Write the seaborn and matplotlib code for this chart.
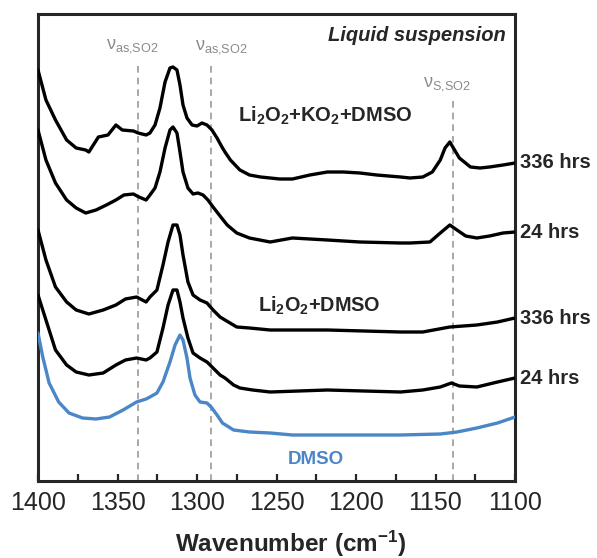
import numpy as np
import pandas as pd
import matplotlib
matplotlib.use("Agg")
import matplotlib.pyplot as plt
import seaborn as sns

# ---------------- data (offset units) ----------------
wn_ko2_336 = [1400, 1395, 1389, 1382, 1376, 1370, 1368, 1362, 1359, 1356, 1351, 1347, 1340, 1337,
              1332, 1329.6, 1326.4, 1323.3, 1320.1, 1317.0, 1315.1, 1312.6, 1310.7, 1308.8,
              1306.3, 1303.1, 1300.0, 1296.9, 1293.7, 1290.6, 1287.4, 1284.3, 1282.4, 1279,
              1273, 1267, 1260, 1254, 1248, 1240, 1229, 1218, 1208, 1197.5, 1187, 1172, 1166,
              1158, 1152, 1147, 1144, 1141, 1138, 1135, 1128, 1122, 1116, 1107.5, 1100]
y_ko2_336 = [411, 381, 361, 341, 333, 331, 329, 344, 345, 346, 356, 351, 350, 348,
             346, 348, 356, 373, 399, 413, 414, 411, 396, 376,
             363, 356, 355, 358, 356, 351, 343, 334, 329, 321,
             311, 306, 304, 303, 302, 302, 306, 309, 309, 308, 306, 304, 303,
             304, 309, 321, 333, 339, 331, 323, 314, 313, 314, 316, 318]

wn_ko2_24 = [1400, 1395, 1389, 1382, 1376, 1370, 1363.5, 1357, 1351, 1346, 1340, 1336.5, 1332,
             1329.6, 1326.4, 1323.3, 1320.1, 1317.0, 1315.1, 1312.6, 1310.7, 1308.8, 1305.7,
             1302.5, 1299.4, 1296.2, 1293.1, 1289.9, 1285.5, 1281, 1275, 1267,
             1254, 1240, 1218, 1197.5, 1172, 1166, 1153.5, 1147, 1141, 1136.5, 1131, 1124,
             1116, 1107.5, 1100]
y_ko2_24 = [351, 321, 298, 281, 273, 268, 271, 276, 281, 286, 287, 284, 281,
            286, 293, 309, 333, 351, 354, 348, 329, 309, 293,
            287, 288, 286, 281, 274, 265, 256, 248, 243,
            239, 243, 241, 239, 238, 238, 239, 248, 256, 251, 245, 243,
            245, 248, 249]

wn_li_336 = [1400, 1395, 1389, 1382, 1376, 1368, 1359, 1351, 1345, 1338, 1332, 1329.6, 1325.2,
             1321.4, 1318.2, 1315.1, 1312.6, 1310.7, 1308.8, 1305.7, 1302.5, 1298.1, 1293.7,
             1289.9, 1285.5, 1282.4, 1275, 1267, 1254, 1218, 1172,
             1158, 1141, 1124, 1111, 1100]
y_li_336 = [251, 221, 194, 179, 171, 167, 171, 176, 182, 184, 179, 184, 191,
            216, 239, 256, 256, 246, 226, 199, 186, 181, 178,
            171, 164, 161, 154, 153, 151, 151, 149,
            149, 154, 156, 159, 163]

wn_li_24 = [1400, 1395, 1389, 1382, 1376, 1368, 1359, 1351, 1345, 1338, 1332, 1329.6, 1325.2,
            1321.4, 1318.2, 1315.1, 1312.6, 1310.7, 1308.8, 1305.7, 1302.5, 1298.1, 1293.7,
            1289.9, 1285.5, 1282.4, 1277, 1273, 1265, 1254, 1218, 1172,
            1158, 1147, 1140, 1135, 1124, 1111, 1100]
y_li_24 = [186, 161, 131, 116, 109, 106, 108, 116, 121, 123, 121, 123, 129,
           153, 176, 191, 191, 179, 163, 143, 128, 123, 119,
           113, 106, 103, 96, 93, 91, 89, 91, 89,
           91, 94, 98, 95, 94, 99, 103]

wn_dmso = [1400, 1397, 1393, 1387, 1380.5, 1372, 1363.5, 1355, 1346.5, 1338, 1332, 1329.6,
           1325.2, 1321.4, 1317.0, 1313.8, 1310.7, 1308.8, 1306.3, 1304.4, 1301.3, 1298.1,
           1293.7, 1290.6, 1287.4, 1284, 1277, 1267, 1254,
           1240, 1172, 1147, 1136.5, 1124, 1111, 1100]
y_dmso = [148, 124, 98, 79, 68, 63, 62, 64, 71, 79, 82, 84,
          88, 99, 119, 136, 146, 141, 123, 103, 86, 79,
          78, 73, 66, 58, 51, 49, 48,
          46, 46, 47, 49, 53, 58, 64]

series_names = ["Li2O2+KO2+DMSO 336 hrs", "Li2O2+KO2+DMSO 24 hrs",
                "Li2O2+DMSO 336 hrs", "Li2O2+DMSO 24 hrs", "DMSO"]
end_labels = ["336 hrs", "24 hrs", "336 hrs", "24 hrs", None]

band_positions = [1337, 1291, 1139]
band_labels = [r"$\mathregular{ν_{as{,}SO2}}$", r"$\mathregular{ν_{as{,}SO2}}$",
               r"$\mathregular{ν_{S{,}SO2}}$"]
band_tops = [419, 419, 381]

xticks = [1400, 1350, 1300, 1250, 1200, 1150, 1100]

# ---------------- build frame ----------------
frames = []
for name, wn, yy in zip(series_names,
                        [wn_ko2_336, wn_ko2_24, wn_li_336, wn_li_24, wn_dmso],
                        [y_ko2_336, y_ko2_24, y_li_336, y_li_24, y_dmso]):
    frames.append(pd.DataFrame({"wn": wn, "y": yy, "series": name}))
df = pd.concat(frames, ignore_index=True)

sns.set_style("ticks")
plt.rcParams["font.family"] = ["Liberation Sans", "DejaVu Sans"]
plt.rcParams["mathtext.fontset"] = "custom"
plt.rcParams["mathtext.rm"] = "Liberation Sans"
plt.rcParams["mathtext.bf"] = "Liberation Sans:bold"

blue = "#4a86c8"
palette = {series_names[0]: "black", series_names[1]: "black", series_names[2]: "black",
           series_names[3]: "black", series_names[4]: blue}

fig = plt.figure(figsize=(5.97, 5.58), dpi=100)
ax = fig.add_axes([38 / 597, 77 / 558, 477 / 597, 467 / 558])

# dashed guide lines
for pos, top in zip(band_positions, band_tops):
    ax.plot([pos, pos], [0, top], ls=(0, (4, 3)), color="#9a9a9a", lw=1.2, zorder=1)

sns.lineplot(data=df, x="wn", y="y", hue="series", palette=palette, estimator=None,
             sort=True, lw=2.4, legend=False, ax=ax, zorder=3)
for ln in ax.lines:
    ln.set_solid_joinstyle("round")

ax.set_xlim(1400, 1100)
ax.set_ylim(0, 467)
ax.set_yticks([])
ax.set_xticks(xticks)
ax.set_xticks(np.arange(1100, 1401, 25), minor=True)
ax.tick_params(axis="x", which="both", direction="in", length=5, width=1.6,
               labelsize=18, pad=7, top=False)
for s in ax.spines.values():
    s.set_linewidth(2.2)
    s.set_visible(True)

ax.set_ylabel("")
ax.set_xlabel(r"Wavenumber (cm$\mathbf{^{-1}}$)", fontsize=17.5, fontweight="bold")
ax.xaxis.set_label_coords(0.53, -0.102)

# band labels
band_label_x = [1341, 1285, 1143]
band_label_y = [435, 434, 397]
for bx, by, lab in zip(band_label_x, band_label_y, band_labels):
    ax.text(bx, by, lab, color="#8a8a8a", fontsize=13, ha="center", va="center")

ax.text(0.98, 0.975, "Liquid suspension", transform=ax.transAxes, ha="right", va="top",
        fontsize=14.5, fontweight="bold", fontstyle="italic")

ax.text(1219.5, 365, r"$\mathregular{Li_2O_2{+}KO_2{+}DMSO}$", ha="center", va="center",
        fontsize=14.5, fontweight="bold")
ax.text(1223, 175, r"$\mathregular{Li_2O_2{+}DMSO}$", ha="center", va="center",
        fontsize=14.3, fontweight="bold")
ax.text(1225, 22, "DMSO", ha="center", va="center", fontsize=13.5, fontweight="bold", color=blue)

for lab, yy in zip(end_labels, [y_ko2_336, y_ko2_24, y_li_336, y_li_24, y_dmso]):
    if lab:
        ax.text(1097, yy[-1], lab, ha="left", va="center", fontsize=14.5,
                fontweight="bold", clip_on=False)

fig.savefig("out.png", dpi=100)
